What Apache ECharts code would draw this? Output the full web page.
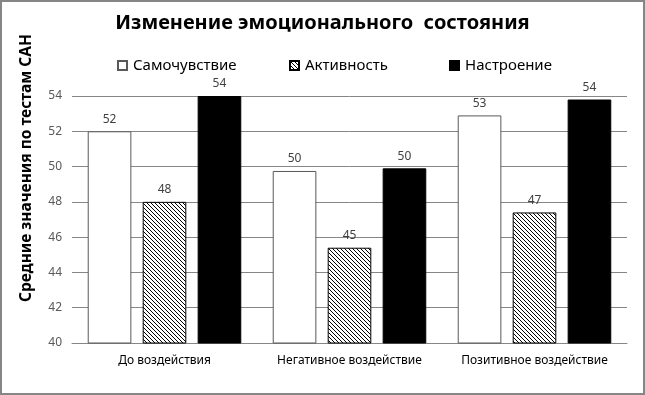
<!DOCTYPE html>
<html>
<head>
<meta charset="utf-8">
<script src="https://cdn.jsdelivr.net/npm/echarts@6/dist/echarts.min.js"></script>
<style>
  html, body { margin: 0; padding: 0; background: #fff; }
  #chart { width: 645px; height: 395px; }
</style>
</head>
<body>
<div id="chart"></div>
<script>
const categories = ['До воздействия', 'Негативное воздействие', 'Позитивное воздействие']
const seriesNames = ['Самочувствие', 'Активность', 'Настроение']
const samochuvstvie = [52.0, 49.75, 52.9]
const aktivnost = [48.0, 45.4, 47.4]
const nastroenie = [54.0, 49.9, 53.8]
const yTicks = [40, 42, 44, 46, 48, 50, 52, 54]

const font = '"Noto Sans", "Open Sans", sans-serif'

// diagonal hatch for "Активность"
function makeHatch() {
    const c = document.createElement('canvas')
    c.width = 4
    c.height = 4
    const ctx = c.getContext('2d')
    ctx.fillStyle = '#fff'
    ctx.fillRect(0, 0, 4, 4)
    ctx.strokeStyle = '#000'
    ctx.lineWidth = 1
    ctx.beginPath()
    ctx.moveTo(-1, -1); ctx.lineTo(5, 5)
    ctx.moveTo(-1, 3); ctx.lineTo(1, 5)
    ctx.moveTo(3, -1); ctx.lineTo(5, 1)
    ctx.stroke()
    return c
}
const hatch = { image: makeHatch(), repeat: 'repeat' }

const chart = echarts.init(document.getElementById('chart'))

const labelCfg = {
    show: true,
    position: 'top',
    distance: 6,
    color: '#404040',
    fontSize: 12,
    fontFamily: font,
    formatter: p => Math.round(p.value)
}

// one legend per item so each sits where it is in the picture
const legendLeft = [112, 284, 444]
const legends = seriesNames.map((name, i) => ({
    data: [name],
    top: 53,
    left: legendLeft[i],
    itemWidth: 9,
    itemHeight: 9,
    icon: 'rect',
    textStyle: { fontSize: 15, color: '#000', fontFamily: font, padding: [0, 0, 0, 1] }
}))

chart.setOption({
    animation: false,
    title: {
        text: 'Изменение эмоционального  состояния',
        left: 'center',
        top: 8,
        textStyle: { fontSize: 20, fontWeight: 'bold', color: '#000', fontFamily: font }
    },
    legend: legends,
    graphic: [
        {
            type: 'rect',
            shape: { x: 1, y: 1, width: 643, height: 393 },
            style: { fill: 'none', stroke: '#868686', lineWidth: 2 },
            silent: true
        },
        {
            type: 'text',
            x: 27,
            y: 168,
            rotation: Math.PI / 2,
            style: {
                text: 'Средние значения по тестам САН',
                font: 'bold 15.5px ' + font,
                fill: '#000',
                align: 'center',
                verticalAlign: 'middle'
            }
        }
    ],
    grid: { left: 72, right: 18, top: 96, bottom: 52 },
    xAxis: {
        type: 'category',
        data: categories,
        axisTick: { show: false },
        axisLine: { lineStyle: { color: '#868686', width: 1 } },
        axisLabel: { color: '#000', fontSize: 12, fontFamily: font, margin: 12, interval: 0 }
    },
    yAxis: {
        type: 'value',
        min: 40,
        max: 54,
        interval: 2,
        axisLine: { show: false },
        axisTick: { show: false },
        splitLine: { lineStyle: { color: '#868686', width: 1 } },
        axisLabel: {
            color: '#595959', fontSize: 12, fontFamily: font, margin: 10,
            formatter: v => yTicks.includes(v) ? String(v) : ''
        }
    },
    series: [
        {
            name: seriesNames[0],
            type: 'bar',
            data: samochuvstvie,
            barGap: '26%',
            barCategoryGap: '17%',
            itemStyle: { color: '#fff', borderColor: '#595959', borderWidth: 1 },
            label: labelCfg
        },
        {
            name: seriesNames[1],
            type: 'bar',
            data: aktivnost,
            itemStyle: { color: hatch, borderColor: '#000', borderWidth: 1 },
            label: labelCfg
        },
        {
            name: seriesNames[2],
            type: 'bar',
            data: nastroenie,
            itemStyle: { color: '#000', borderColor: '#000', borderWidth: 1 },
            label: labelCfg
        }
    ]
})
</script>
</body>
</html>
